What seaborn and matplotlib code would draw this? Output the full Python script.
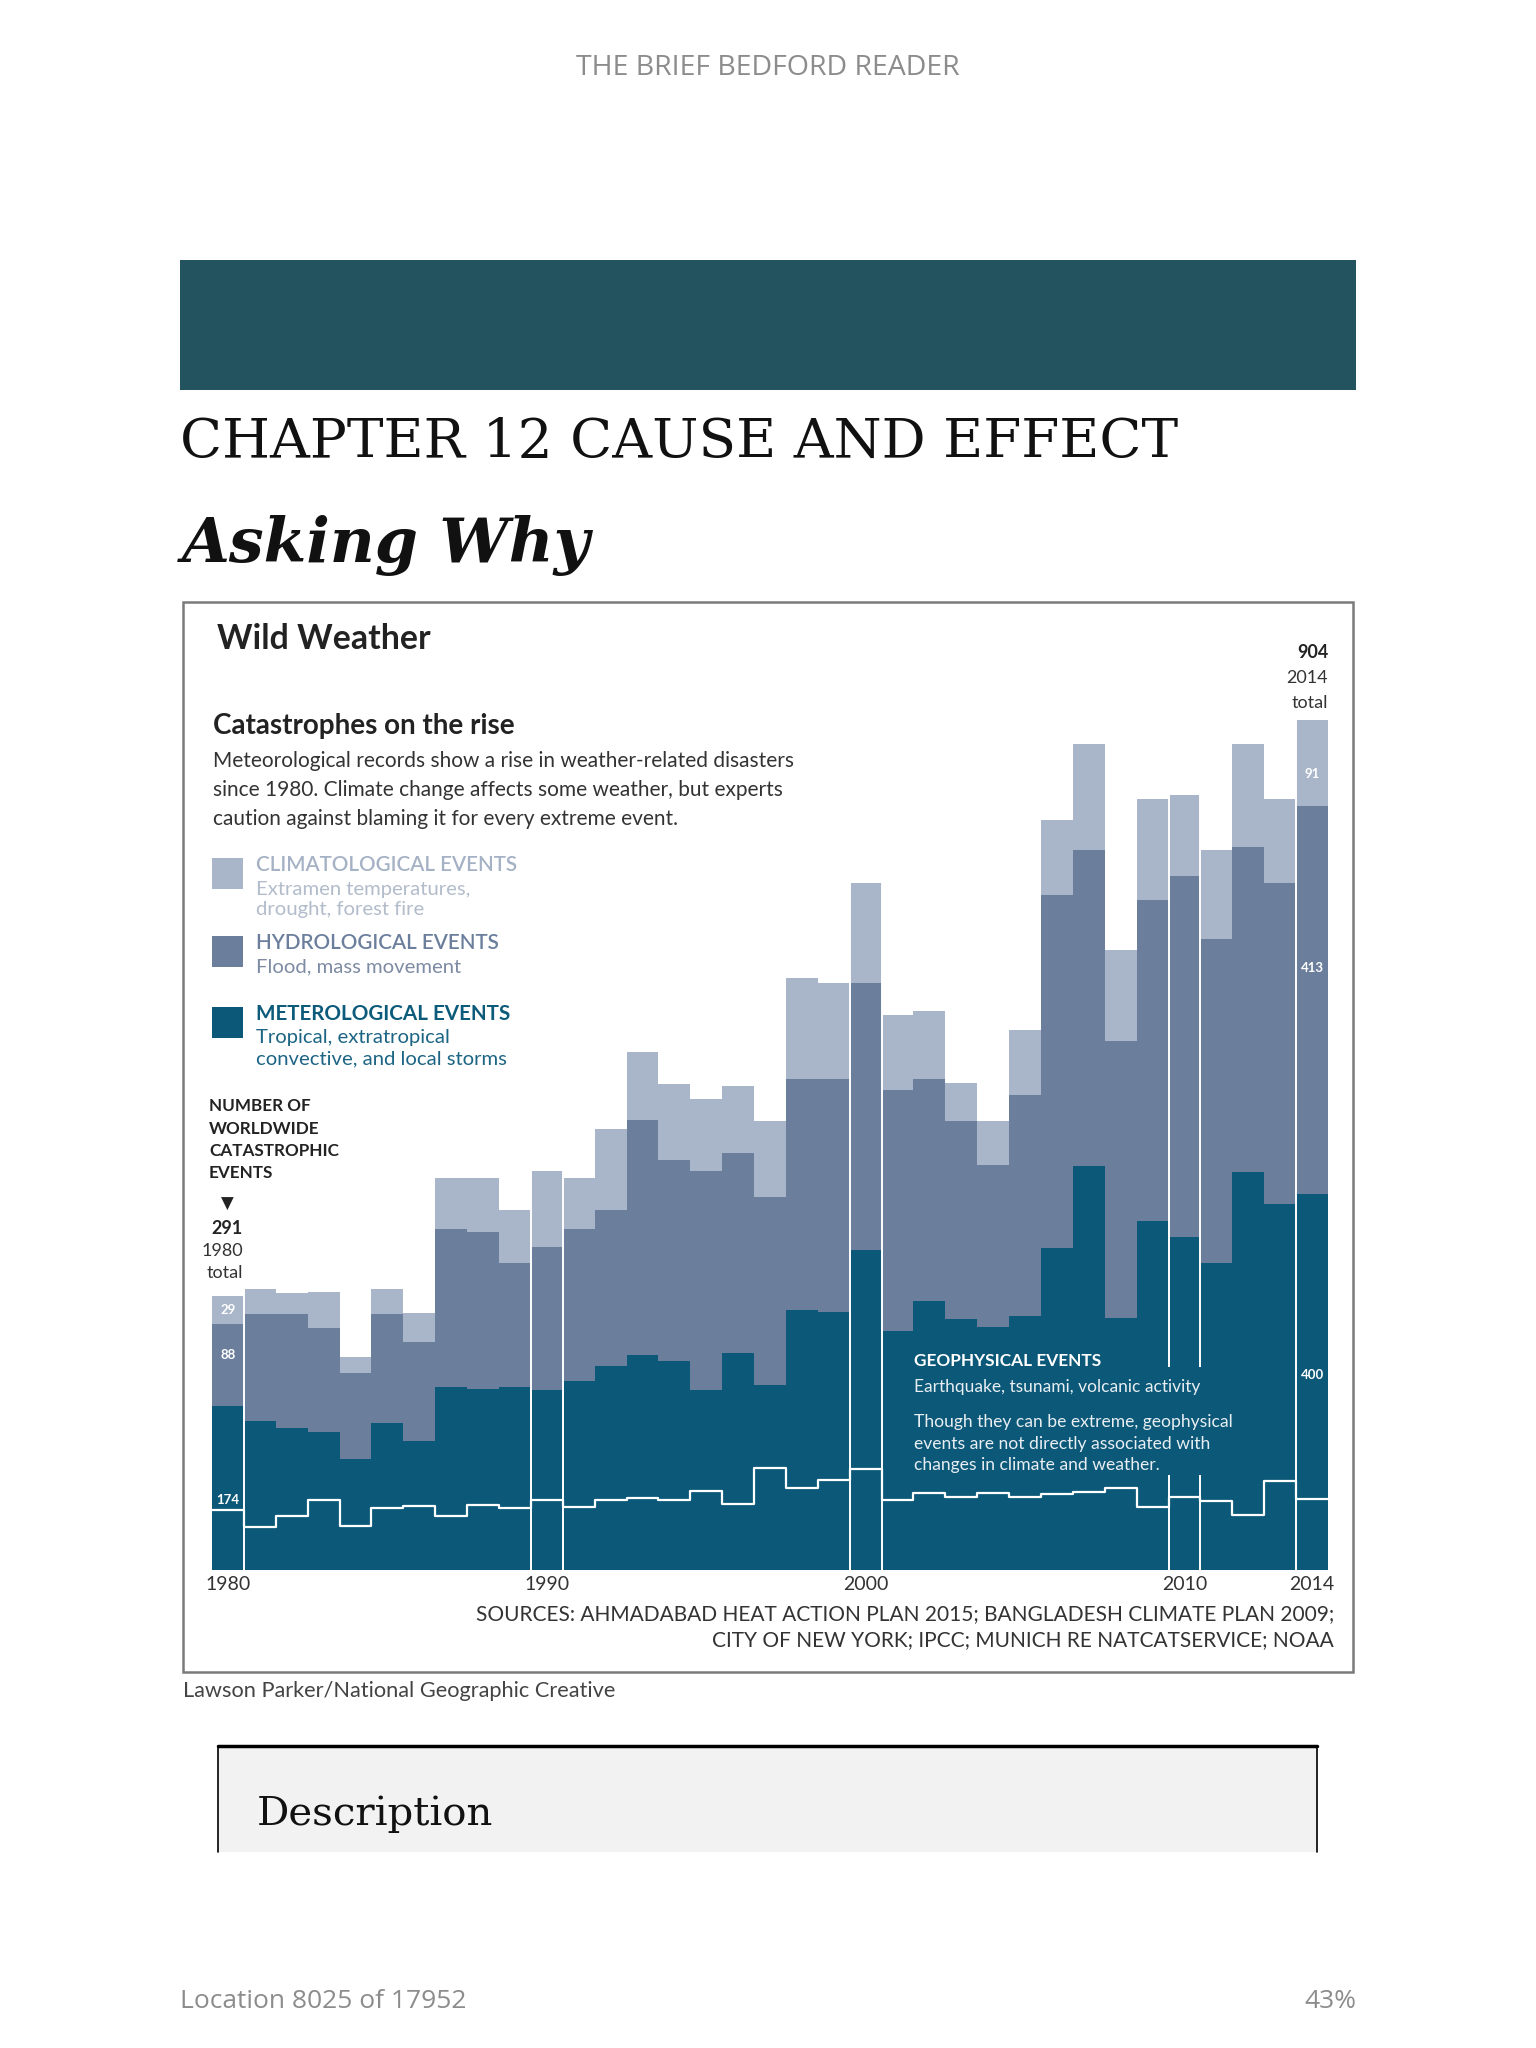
import numpy as np
import pandas as pd
import matplotlib
matplotlib.use("Agg")
import matplotlib.pyplot as plt
from matplotlib.patches import Rectangle
from matplotlib.lines import Line2D
import seaborn as sns

# Data (number of worldwide catastrophic events)
years = list(range(1980, 2015))
meteorological = [174, 158, 151, 147, 118, 156, 137, 195, 193, 195,
                  191, 201, 217, 229, 222, 191, 231, 197, 277, 274,
                  340, 254, 286, 267, 258, 270, 342, 430, 268, 371,
                  354, 326, 423, 389, 400]
hydrological = [88, 114, 121, 110, 91, 116, 105, 168, 167, 131,
                152, 162, 166, 250, 214, 233, 212, 200, 245, 248,
                284, 256, 236, 210, 173, 235, 376, 336, 295, 342,
                384, 345, 346, 342, 413]
climatological = [29, 27, 23, 39, 18, 27, 31, 54, 57, 57,
                  81, 54, 86, 72, 81, 77, 72, 80, 108, 102,
                  107, 80, 73, 41, 46, 69, 80, 112, 96, 107,
                  86, 95, 109, 89, 91]
geophysical = [64, 46, 57, 74, 47, 66, 68, 57, 69, 66,
               74, 67, 74, 77, 74, 84, 70, 108, 87, 96,
               107, 74, 82, 78, 82, 78, 81, 83, 87, 67,
               78, 73, 59, 95, 76]
marker_years = [1980, 1990, 2000, 2010, 2014]
tick_years = [1980, 1990, 2000, 2010, 2014]

categories = ["Climatological", "Hydrological", "Meteorological"]
palette = {"Climatological": "#a9b5c8", "Hydrological": "#6b7f9c", "Meteorological": "#0b5878"}

df = pd.DataFrame({
    "year": years * 3,
    "category": ["Meteorological"] * 35 + ["Hydrological"] * 35 + ["Climatological"] * 35,
    "count": meteorological + hydrological + climatological,
})
totals = np.array(meteorological) + np.array(hydrological) + np.array(climatological)

sns.set_theme(style="white")
plt.rcParams["font.family"] = ["Lato", "DejaVu Sans"]

W, H = 1536, 2048
fig = plt.figure(figsize=(W / 100, H / 100), dpi=100)
fig.patch.set_facecolor("white")


def fx(x):
    return x / W


def fy(y):
    return 1 - y / H


def txt(x, y, s, **kw):
    kw.setdefault("va", "center")
    fig.text(fx(x), fy(y), s, zorder=5, **kw)


# page furniture
txt(768, 68, "THE BRIEF BEDFORD READER", ha="center", fontsize=20.5, color="#8c8c8c", family="Open Sans")
fig.patches.append(Rectangle((fx(180), fy(390)), fx(1356) - fx(180), fy(260) - fy(390),
                             transform=fig.transFigure, facecolor="#22535f", edgecolor="none"))
txt(180, 443, "CHAPTER 12 CAUSE AND EFFECT", ha="left", fontsize=39.6, color="#111111",
    family="DejaVu Serif")
txt(182, 545, "Asking Why", ha="left", fontsize=44.5, color="#111111", family="DejaVu Serif",
    weight="bold", style="italic")

# chart frame
fig.patches.append(Rectangle((fx(183), fy(1672)), fx(1353) - fx(183), fy(602) - fy(1672),
                             transform=fig.transFigure, facecolor="none", edgecolor="#7a7a7a",
                             linewidth=1.8, zorder=1))

# main axes: x from 1979.5 to 2014.5, y from 0 to 904
ax = fig.add_axes([fx(212), fy(1570), fx(1328) - fx(212), fy(720) - fy(1570)])
ax.set_zorder(3)
ax.patch.set_alpha(0)
sns.histplot(data=df, x="year", weights="count", hue="category", hue_order=categories,
             multiple="stack", discrete=True, shrink=1, element="bars", palette=palette,
             alpha=1, linewidth=0, legend=False, ax=ax)
for p in ax.patches:
    p.set_linewidth(0)
    p.set_antialiased(False)

# geophysical step line
sns.histplot(x=years, weights=geophysical, discrete=True, element="step", fill=False,
             color="white", linewidth=1.6, ax=ax)

# white separators around decade bars
for yr in marker_years:
    i = years.index(yr)
    for side in (-1, 1):
        j = i + side
        if j < 0 or j >= len(years):
            continue
        top = max(totals[i], totals[j])
        xb = yr + 0.5 * side
        if yr == 2010:
            ax.vlines(xb, 0, 101, color="white", linewidth=1.4)
            ax.vlines(xb, 216, top, color="white", linewidth=1.4)
        else:
            ax.vlines(xb, 0, top, color="white", linewidth=1.4)

ax.set_xlim(1979.5, 2014.5)
ax.set_ylim(0, 904)
ax.set_xticks(tick_years)
ax.set_xticklabels([str(t) for t in tick_years], fontsize=14, color="#333333")
ax.tick_params(axis="x", length=0, pad=4)
ax.set_yticks([])
ax.set_xlabel("")
ax.set_ylabel("")
sns.despine(ax=ax, left=True, bottom=True)

# value labels inside bars
lab = dict(color="white", fontsize=9.5, weight="bold", ha="center", va="center")
ax.text(1980, 276, "29", **lab)
ax.text(1980, 229, "88", **lab)
ax.text(1980, 74, "174", **lab)
ax.text(2014, 847, "91", **lab)
ax.text(2014, 640, "413", **lab)
ax.text(2014, 207, "400", **lab)

# geophysical annotation
txt(914, 1361, "GEOPHYSICAL EVENTS", ha="left", fontsize=12.4, color="white", weight="bold")
txt(914, 1387, "Earthquake, tsunami, volcanic activity", ha="left", fontsize=12.5, color="#e8eef2")
for k, line in enumerate(["Though they can be extreme, geophysical",
                          "events are not directly associated with",
                          "changes in climate and weather."]):
    txt(914, 1422 + k * 21.5, line, ha="left", fontsize=12.6, color="#e8eef2")

# titles
txt(217, 639, "Wild Weather", ha="left", fontsize=24.4, weight="bold", color="#222222")
txt(213, 726, "Catastrophes on the rise", ha="left", fontsize=20, weight="bold", color="#222222")
for k, line in enumerate(["Meteorological records show a rise in weather-related disasters",
                          "since 1980. Climate change affects some weather, but experts",
                          "caution against blaming it for every extreme event."]):
    txt(213, 761 + k * 29, line, ha="left", fontsize=15, color="#333333")

# legend
legend_items = [
    ("Climatological", "CLIMATOLOGICAL EVENTS", ["Extramen temperatures,", "drought, forest fire"],
     858, "#a5b1c4", "#b2bccb"),
    ("Hydrological", "HYDROLOGICAL EVENTS", ["Flood, mass movement"], 936, "#6b7f9c", "#7d8ba3"),
    ("Meteorological", "METEROLOGICAL EVENTS", ["Tropical, extratropical",
                                                "convective, and local storms"],
     1007, "#0d5b7b", "#1d6584"),
]
for cat, head, subs, ytop, hc, sc in legend_items:
    fig.patches.append(Rectangle((fx(212), fy(ytop + 31)), fx(243) - fx(212), fy(ytop) - fy(ytop + 31),
                                 transform=fig.transFigure, facecolor=palette[cat], edgecolor="none"))
    txt(256, ytop + 7, head, ha="left", fontsize=14.9, color=hc,
        weight="bold" if cat == "Meteorological" else "semibold")
    for k, s in enumerate(subs):
        txt(256, ytop + 31 + k * 21, s, ha="left", fontsize=14.6, color=sc)

for k, s in enumerate(["NUMBER OF", "WORLDWIDE", "CATASTROPHIC", "EVENTS"]):
    txt(209, 1106 + k * 22.5, s, ha="left", fontsize=12.3, weight="bold", color="#222222")
txt(227, 1204, "\u25bc", ha="center", fontsize=12, color="#222222", family="DejaVu Sans")
txt(243, 1229, "291", ha="right", fontsize=13, weight="bold", color="#222222")
txt(243, 1251, "1980", ha="right", fontsize=13, color="#333333")
txt(243, 1273, "total", ha="right", fontsize=13, color="#333333")

txt(1328, 653, "904", ha="right", fontsize=13, weight="bold", color="#222222")
txt(1328, 678, "2014", ha="right", fontsize=13, color="#333333")
txt(1328, 703, "total", ha="right", fontsize=13, color="#333333")

# sources and credit
txt(1334, 1614, "SOURCES: AHMADABAD HEAT ACTION PLAN 2015; BANGLADESH CLIMATE PLAN 2009;",
    ha="right", fontsize=15, color="#333333")
txt(1334, 1640, "CITY OF NEW YORK; IPCC; MUNICH RE NATCATSERVICE; NOAA",
    ha="right", fontsize=15, color="#333333")
txt(183, 1691, "Lawson Parker/National Geographic Creative", ha="left", fontsize=15.7, color="#444444")

# description box
fig.patches.append(Rectangle((fx(218), fy(1852)), fx(1317) - fx(218), fy(1745) - fy(1852),
                             transform=fig.transFigure, facecolor="#f2f2f2", edgecolor="none"))
fig.lines.append(Line2D([fx(218), fx(1317)], [fy(1746), fy(1746)], transform=fig.transFigure,
                        color="black", linewidth=2.5))
for xe in (218, 1317):
    fig.lines.append(Line2D([fx(xe), fx(xe)], [fy(1746), fy(1852)], transform=fig.transFigure,
                            color="black", linewidth=1.2))
txt(257, 1814, "Description", ha="left", fontsize=29, color="#111111", family="DejaVu Serif")

txt(180, 2002, "Location 8025 of 17952", ha="left", fontsize=19, color="#8c8c8c", family="Open Sans")
txt(1356, 2002, "43%", ha="right", fontsize=19, color="#8c8c8c", family="Open Sans")

fig.savefig("out.png", dpi=100)
